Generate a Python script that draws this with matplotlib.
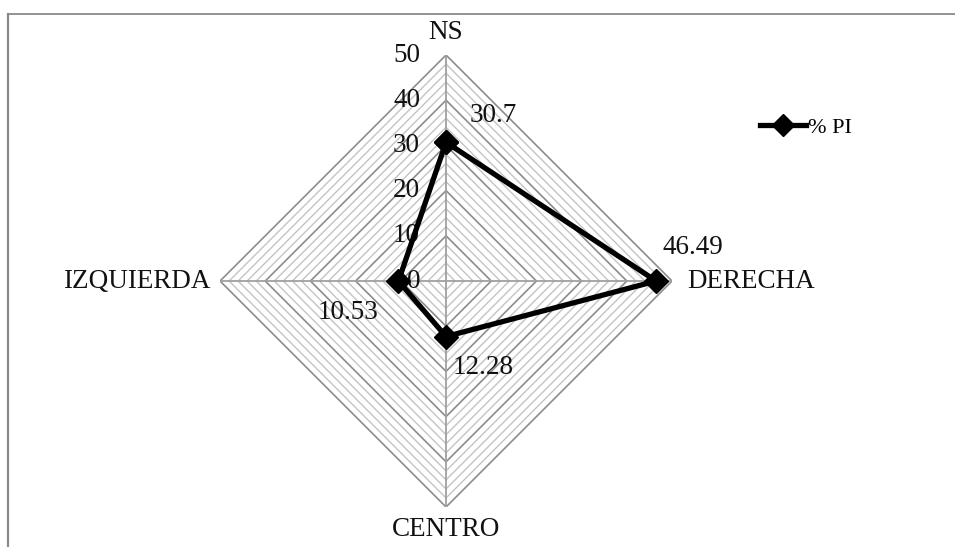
import numpy as np
import matplotlib.pyplot as plt
from matplotlib.lines import Line2D

categories = ['NS', 'DERECHA', 'CENTRO', 'IZQUIERDA']
pi_values = [30.7, 46.49, 12.28, 10.53]
value_labels = ['30.7', '46.49', '12.28', '10.53']
r_ticks = [0, 10, 20, 30, 40, 50]

plt.rcParams['font.family'] = ['Liberation Serif', 'DejaVu Serif']
fs = 19.5

fig = plt.figure(figsize=(9.55, 5.47), dpi=100)
ax = fig.add_axes([0.2304, 0.0731, 0.4733, 0.8263], projection='polar')
ax.set_theta_zero_location('N')
ax.set_theta_direction(-1)
ax.set_ylim(0, 50)
ax.grid(False)
ax.set_xticks([])
ax.set_yticks([])
ax.spines['polar'].set_visible(False)
ax.patch.set_visible(False)

angles = np.linspace(0, 2 * np.pi, len(categories), endpoint=False)
closed = np.append(angles, angles[0])

# polygon grid every 2 units, darker every 10
for r in range(2, 51, 2):
    major = r % 10 == 0
    ax.plot(closed, [r] * len(closed), color='#8c8c8c' if major else '#c4c4c4',
            lw=1.2 if major else 1.0, zorder=1)
for a in angles:
    ax.plot([a, a], [0, 50], color='#a0a0a0', lw=1.3, zorder=1)

# tick labels on NS axis
for t in r_ticks:
    ax.annotate(str(t), (0, t), xytext=(-26, 0), textcoords='offset pixels',
                ha='right', va='center', fontsize=fs, color='#111111', zorder=2)

# category labels
cat_off = [(0, 23), (15, 0), (0, -22), (-10, 0)]
cat_ha = ['center', 'left', 'center', 'right']
for a, c, off, ha in zip(angles, categories, cat_off, cat_ha):
    ax.annotate(c, (a, 50), xytext=off, textcoords='offset pixels',
                ha=ha, va='center', fontsize=fs, color='#111111')

vals = pi_values + [pi_values[0]]
ax.plot(closed, vals, color='black', lw=3.8, marker='D', markersize=12,
        label='% PI', zorder=4)

lab_off = [(47, 27), (37, 34), (37, -31), (-50, -31)]
for a, v, s, off in zip(angles, pi_values, value_labels, lab_off):
    ax.annotate(s, (a, v), xytext=off, textcoords='offset pixels',
                ha='center', va='center', fontsize=fs, color='#111111', zorder=5)

fig.legend(handles=[Line2D([], [], color='black', lw=3.8, marker='D', markersize=11)],
           labels=['% PI'], loc='center left', bbox_to_anchor=(0.796, 0.766),
           frameon=False, fontsize=16, handlelength=2.05, handletextpad=0.12,
           borderpad=0, borderaxespad=0)

# chart frame (only left and top visible)
fig.add_artist(Line2D([7.5 / 955, 7.5 / 955], [0, 1 - 13.5 / 547], color='#8a8a8a', lw=1.6))
fig.add_artist(Line2D([7.5 / 955, 1], [1 - 13.5 / 547, 1 - 13.5 / 547], color='#8a8a8a', lw=1.3))

fig.savefig('out.png', dpi=100)
